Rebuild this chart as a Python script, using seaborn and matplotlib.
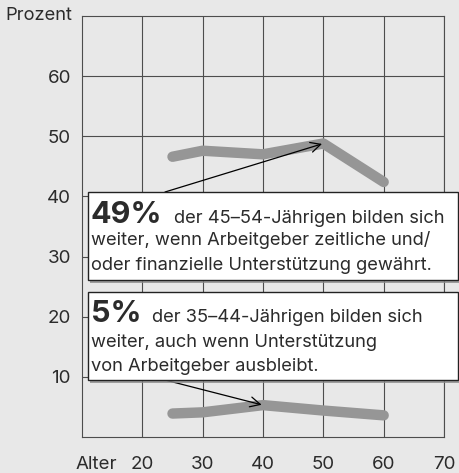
import matplotlib
matplotlib.use("Agg")
import matplotlib.pyplot as plt
import matplotlib.patches as mpatches
import seaborn as sns
import pandas as pd

# Werte
alter = [25, 30, 40, 50, 60]
mit_unterstuetzung = [46.6, 47.6, 47.0, 48.8, 42.4]
ohne_unterstuetzung = [3.9, 4.1, 5.3, 4.4, 3.6]
x_ticks = [20, 30, 40, 50, 60, 70]
y_ticks = [10, 20, 30, 40, 50, 60]

box1_bold = "49%"
box1_rest = "der 45\u201354-J\u00e4hrigen bilden sich"
box1_lines = ["weiter, wenn Arbeitgeber zeitliche und/",
              "oder finanzielle Unterst\u00fctzung gew\u00e4hrt."]
box2_bold = "5%"
box2_rest = "der 35\u201344-J\u00e4hrigen bilden sich"
box2_lines = ["weiter, auch wenn Unterst\u00fctzung",
              "von Arbeitgeber ausbleibt."]

W, H = 459, 473
bg = "#e8e8e8"
grid_c = "#4d4d4d"
text_c = "#2b2b2b"

sns.set_theme(style="whitegrid", rc={
    "axes.facecolor": bg, "figure.facecolor": bg,
    "grid.color": grid_c, "grid.linewidth": 0.8,
    "axes.edgecolor": grid_c, "axes.linewidth": 0.8,
})
plt.rcParams["font.family"] = ["Inter", "DejaVu Sans"]

df = pd.DataFrame({
    "Alter": alter * 2,
    "Prozent": mit_unterstuetzung + ohne_unterstuetzung,
    "Gruppe": ["mit"] * len(alter) + ["ohne"] * len(alter),
})

fig = plt.figure(figsize=(W / 100, H / 100), dpi=100)
ax = fig.add_axes([82 / W, 1 - 437 / H, (444 - 82) / W, (437 - 16) / H])

sns.lineplot(data=df, x="Alter", y="Prozent", hue="Gruppe",
             palette=["#969696", "#969696"], linewidth=7.5,
             solid_capstyle="round", legend=False, ax=ax, zorder=3)

ax.set_xlim(10, 70)
ax.set_ylim(0, 70)
ax.set_xticks(x_ticks)
ax.set_yticks(y_ticks)
ax.set_xlabel("")
ax.set_ylabel("")
ax.tick_params(axis="both", length=0, labelsize=13.5, colors=text_c)
ax.tick_params(axis="x", pad=13.5)
ax.tick_params(axis="y", pad=8)
for s in ax.spines.values():
    s.set_visible(True)
    s.set_color(grid_c)
    s.set_linewidth(0.8)


def fp(x, y):
    return (x / W, 1 - y / H)


fig.text(*fp(72, 16), "Prozent", ha="right", va="center",
         fontsize=13.2, color=text_c)

# Pfeile
ax.annotate("", xy=(50, mit_unterstuetzung[3]), xytext=(165, H - 192),
            textcoords="figure pixels",
            arrowprops=dict(arrowstyle="->", color="black", lw=0.9,
                            mutation_scale=18, shrinkA=0, shrinkB=1),
            zorder=4)
ax.annotate("", xy=(40, ohne_unterstuetzung[2]), xytext=(165, H - 380),
            textcoords="figure pixels",
            arrowprops=dict(arrowstyle="->", color="black", lw=0.9,
                            mutation_scale=18, shrinkA=0, shrinkB=1),
            zorder=4)


def add_box(top, bottom, bold, rest, lines, base):
    left, right = 88, 458
    x0, y0 = fp(left, bottom)
    w = (right - left) / W
    h = (bottom - top) / H
    shadow = mpatches.Rectangle((x0 + 2.5 / W, y0 - 2.5 / H), w, h,
                                transform=fig.transFigure, facecolor="#8a8a8a",
                                edgecolor="none", zorder=5, alpha=0.8)
    box = mpatches.Rectangle((x0, y0), w, h, transform=fig.transFigure,
                             facecolor="white", edgecolor="#222222",
                             linewidth=1.0, zorder=6)
    fig.add_artist(shadow)
    fig.add_artist(box)
    tb = fig.text(*fp(91, base[0]), bold, ha="left", va="baseline",
                  fontsize=22, fontweight="bold", color=text_c, zorder=7)
    fig.canvas.draw()
    bb = tb.get_window_extent()
    fig.text((bb.x1 + 11) / W, 1 - base[0] / H, rest, ha="left",
             va="baseline", fontsize=13.2, color=text_c, zorder=7)
    for ln, yb in zip(lines, base[1:]):
        fig.text(*fp(91, yb), ln, ha="left", va="baseline",
                 fontsize=13.2, color=text_c, zorder=7)


add_box(192, 280, box1_bold, box1_rest, box1_lines, [223, 245, 269.5])
add_box(292, 380, box2_bold, box2_rest, box2_lines, [322, 347, 370.5])

fig.canvas.draw()
lbl = ax.get_xticklabels()[0].get_window_extent()
fig.text((lbl.x0 - 14) / W, (lbl.y0 + lbl.y1) / 2 / H, "Alter",
         ha="right", va="center", fontsize=13.5, color=text_c)

fig.savefig("out.png", dpi=100, facecolor=bg)
